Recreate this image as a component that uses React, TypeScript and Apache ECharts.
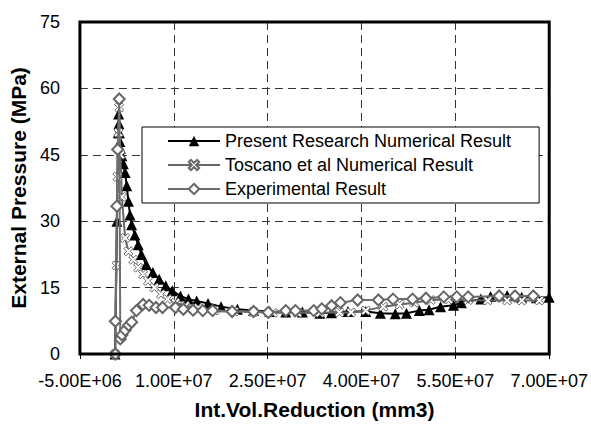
import React, { useEffect, useRef } from "react";
import * as echarts from "echarts";

const xTickLabels = ["-5.00E+06", "1.00E+07", "2.50E+07", "4.00E+07", "5.50E+07", "7.00E+07"];
const yTickLabels = ["0", "15", "30", "45", "60", "75"];

const presentX = [0.61e6, 0.92e6, 1.13e6, 1.19e6, 1.24e6, 1.31e6, 1.39e6, 1.47e6, 1.7e6, 1.94e6, 2.22e6, 2.48e6, 2.75e6, 3.0e6, 3.26e6, 3.78e6, 4.31e6, 4.82e6, 5.6e6, 6.65e6, 7.67e6, 8.72e6, 9.76e6, 11.06e6, 12.35e6, 13.66e6, 15.47e6, 17.56e6, 20.15e6, 22.75e6, 25.35e6, 27.9e6, 30.55e6, 33.35e6, 35.2e6, 37.83e6, 40.68e6, 43.02e6, 45.4e6, 47.18e6, 49.25e6, 50.8e6, 52.64e6, 54.7e6, 55.96e6, 59.08e6, 60.63e6, 63.28e6, 65.6e6, 67.96e6, 69.99e6];
const presentY = [0, 30, 50, 54.2, 52, 50, 48, 46.5, 44.8, 43, 41, 38, 34.5, 31.4, 29.2, 26.9, 24.7, 22.5, 20.2, 18.4, 16.9, 15.4, 14.3, 13.1, 12.4, 12.0, 11.4, 10.7, 10.1, 9.8, 9.6, 9.5, 9.5, 9.2, 9.3, 9.6, 9.6, 9.2, 9.1, 9.2, 9.8, 10.0, 10.7, 11.0, 11.6, 12.4, 13.0, 13.2, 12.8, 12.7, 12.8];

const toscanoX = [0.61e6, 0.85e6, 1.0e6, 1.16e6, 1.28e6, 1.47e6, 1.7e6, 2.22e6, 2.75e6, 3.53e6, 4.31e6, 5.09e6, 5.87e6, 6.9e6, 7.94e6, 8.98e6, 10.28e6, 11.84e6, 13.91e6, 16.51e6, 19.63e6, 22.75e6, 25.87e6, 29.77e6, 33.35e6, 36.47e6, 38.34e6, 40.68e6, 43.49e6, 46.1e6, 48.45e6, 51.05e6, 53.9e6, 57.05e6, 60.17e6, 63.28e6, 65.62e6, 68.43e6];
const toscanoY = [0, 20, 40, 50, 55.7, 45, 35.5, 26.2, 23.2, 21.3, 19.5, 18, 16.5, 15, 13.5, 12.4, 11.6, 10.9, 10.4, 9.8, 9.6, 9.5, 9.3, 9.3, 9.3, 9.4, 9.4, 9.8, 10.7, 11.2, 11.6, 12.2, 12.3, 12.2, 12.1, 12.1, 12.1, 12.1];

const expX = [0.66e6, 0.66e6, 0.9e6, 1.03e6, 1.28e6, 1.45e6, 1.72e6, 2.25e6, 2.78e6, 3.26e6, 4.04e6, 5.09e6, 6.07e6, 7.16e6, 8.2e6, 10.28e6, 11.53e6, 13.08e6, 14.64e6, 16.2e6, 19.32e6, 22.75e6, 25.09e6, 27.9e6, 29.45e6, 32.37e6, 33.66e6, 35.22e6, 36.63e6, 39.38e6, 42.7e6, 45.04e6, 48.16e6, 50.3e6, 53.15e6, 55.22e6, 57.05e6, 61.99e6, 64.53e6, 67.45e6];
const expY = [0, 7.4, 33.4, 46.2, 57.6, 3.4, 4.3, 5.4, 6.5, 7.2, 9.8, 11.2, 11.0, 10.5, 10.5, 10.5, 10.1, 9.9, 9.8, 9.8, 9.6, 9.6, 9.4, 9.8, 9.8, 9.8, 10.2, 10.9, 11.6, 12.2, 12.2, 12.4, 12.4, 12.6, 12.9, 12.9, 12.9, 13.1, 13.1, 13.1];

const seriesNames = ["Present Research Numerical Result", "Toscano et al Numerical Result", "Experimental Result"];

const pairs = (xs: number[], ys: number[]) => xs.map((x, i) => [x, ys[i]]);

const fmtSci = (v: number) => {
  if (v === 0) return "0.00E+00";
  const e = Math.floor(Math.log10(Math.abs(v)) + 1e-9);
  const m = v / Math.pow(10, e);
  return `${m.toFixed(2)}E${e < 0 ? "-" : "+"}${String(Math.abs(e)).padStart(2, "0")}`;
};

const xSymbol = "path://M0,2 L2,0 L5,3 L8,0 L10,2 L7,5 L10,8 L8,10 L5,7 L2,10 L0,8 L3,5 Z";

export default function App() {
  const ref = useRef<HTMLDivElement>(null);
  useEffect(() => {
    if (!ref.current) return;
    const chart = echarts.init(ref.current, undefined, { renderer: "svg" });
    const font = "Arial, 'Liberation Sans', Helvetica, sans-serif";
    chart.setOption({
      animation: false,
      backgroundColor: "#fff",
      textStyle: { fontFamily: font },
      grid: {
        left: 72,
        right: 38,
        top: 22,
        bottom: 68,
        show: true,
        borderColor: "#000",
        borderWidth: 3,
        z: 10,
      },
      legend: {
        left: 142,
        top: 127,
        orient: "vertical",
        backgroundColor: "#fff",
        borderColor: "#000",
        borderWidth: 1,
        borderRadius: 0,
        padding: [5, 28, 5, 25],
        itemGap: 6,
        itemWidth: 52,
        itemHeight: 13,
        textStyle: { fontSize: 18, color: "#000", fontFamily: font },
        data: seriesNames,
      },
      xAxis: {
        type: "value",
        min: -5e6,
        max: 7e7,
        interval: 1.5e7,
        name: "Int.Vol.Reduction (mm3)",
        nameLocation: "middle",
        nameGap: 45,
        nameTextStyle: { fontSize: 21, fontWeight: "bold", color: "#000", fontFamily: font },
        axisLine: { show: false },
        axisTick: { show: true, length: 5, lineStyle: { color: "#000", width: 1 } },
        axisLabel: {
          fontSize: 18,
          color: "#000",
          margin: 18,
          formatter: (v: number) => {
            const s = fmtSci(v);
            return xTickLabels.includes(s) ? s : "";
          },
        },
        splitLine: { show: true, lineStyle: { color: "#333", width: 1, type: [8, 5] } },
      },
      yAxis: {
        type: "value",
        min: 0,
        max: 75,
        interval: 15,
        name: "External Pressure (MPa)",
        nameLocation: "middle",
        nameGap: 46,
        nameTextStyle: { fontSize: 21, fontWeight: "bold", color: "#000", fontFamily: font },
        axisLine: { show: false },
        axisTick: { show: true, length: 5, lineStyle: { color: "#000", width: 1 } },
        axisLabel: {
          fontSize: 18,
          color: "#000",
          margin: 20,
          formatter: (v: number) => {
            const s = String(v);
            return yTickLabels.includes(s) ? s : "";
          },
        },
        splitLine: { show: true, lineStyle: { color: "#333", width: 1, type: [8, 5] } },
      },
      series: [
        {
          name: seriesNames[0],
          type: "line",
          data: pairs(presentX, presentY),
          symbol: "triangle",
          symbolSize: 11,
          lineStyle: { color: "#000", width: 2 },
          itemStyle: { color: "#000" },
          z: 2,
        },
        {
          name: seriesNames[1],
          type: "line",
          data: pairs(toscanoX, toscanoY),
          symbol: xSymbol,
          symbolSize: 9,
          lineStyle: { color: "#666", width: 2 },
          itemStyle: { color: "#fff", borderColor: "#666", borderWidth: 1 },
          z: 3,
        },
        {
          name: seriesNames[2],
          type: "line",
          data: pairs(expX, expY),
          symbol: "diamond",
          symbolSize: 11,
          lineStyle: { color: "#6e6e6e", width: 2 },
          itemStyle: { color: "#fff", borderColor: "#666", borderWidth: 2 },
          z: 4,
        },
      ],
    });
    return () => chart.dispose();
  }, []);
  return (
    <div
      ref={ref}
      style={{ position: "fixed", left: 0, top: 0, width: 591, height: 425, background: "#fff" }}
    />
  );
}
